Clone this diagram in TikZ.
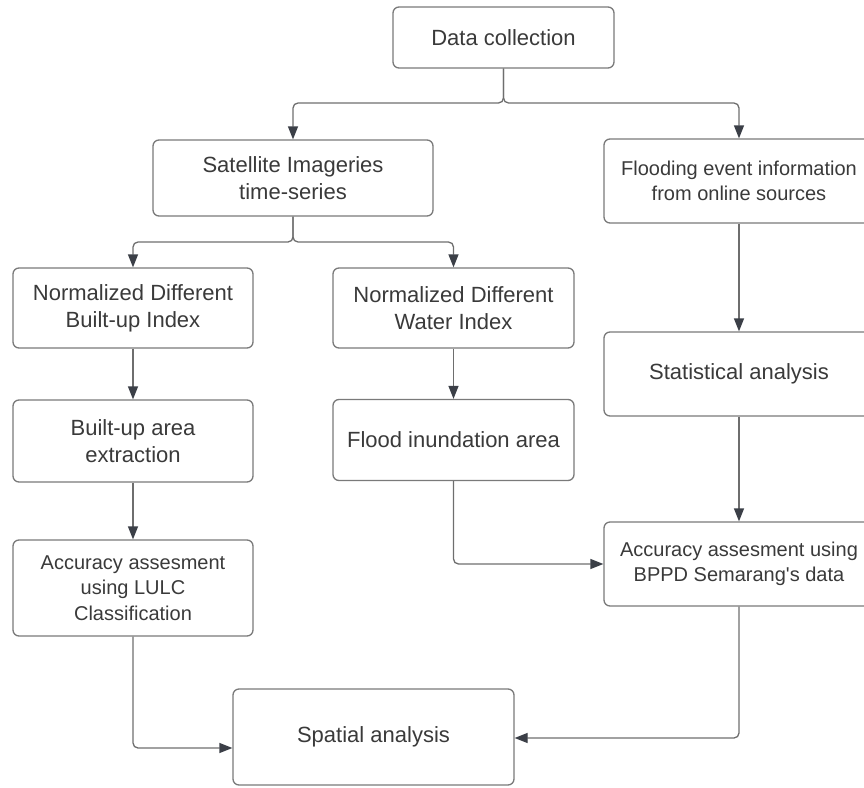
\documentclass[tikz,border=0pt]{standalone}
\usepackage{fontspec}
\setmainfont{Liberation Sans}
\newfontfamily\plainsans{Liberation Sans}
\usetikzlibrary{arrows.meta}
\definecolor{boxline}{HTML}{7A7A7A}
\definecolor{txtgray}{HTML}{3A3A3A}
\definecolor{linegray}{HTML}{6E6E6E}
\definecolor{tipgray}{HTML}{3B3F47}
\begin{document}
\begin{tikzpicture}[x=1pt, y=-1pt,
	box/.style={draw=boxline, line width=1.3pt, rounded corners=6pt, fill=white, text=txtgray,
		align=center, inner sep=0pt, font=\fontsize{22}{27}\selectfont},
	small/.style={font=\fontsize{20}{25.5}\selectfont},
	conn/.style={draw=linegray, line width=1.3pt, rounded corners=5pt,
		-{Triangle[length=13pt, width=10pt, color=tipgray]}}]
	\useasboundingbox (0,0) rectangle (864,787);
	% boxes
	\node[box, minimum width=221pt, minimum height=61pt] (data) at (503.5,37.5) {Data collection};
	\node[box, minimum width=280pt, minimum height=76pt] (sat) at (293,178) {Satellite Imageries\\time-series};
	\node[box, small, minimum width=270pt, minimum height=84pt] (flood) at (739,181) {Flooding event information\\from online sources};
	\node[box, minimum width=240pt, minimum height=80pt] (ndbi) at (133,308) {Normalized Different\\Built-up Index};
	\node[box, minimum width=241pt, minimum height=80pt] (ndwi) at (453.5,308) {Normalized Different\\Water Index};
	\node[box, minimum width=240pt, minimum height=82pt] (built) at (133,441) {Built-up area\\extraction};
	\node[box, minimum width=241pt, minimum height=81pt] (inund) at (453.5,440) {Flood inundation area};
	\node[box, small, minimum width=240pt, minimum height=96pt] (lulc) at (133,588) {Accuracy assesment\\using LULC\\Classification};
	\node[box, minimum width=270pt, minimum height=84pt] (stat) at (739,374) {Statistical analysis};
	\node[box, small, minimum width=270pt, minimum height=84pt] (bppd) at (739,564) {Accuracy assesment using\\BPPD Semarang{\plainsans'}s data};
	\node[box, minimum width=281pt, minimum height=96pt] (spatial) at (373.5,737) {Spatial analysis};
	% connectors
	\coordinate (splitA) at (503.5,103);
	\coordinate (splitB) at (293,242);
	\draw[conn] (data.south) -- (splitA) -| (sat.north);
	\draw[conn] (data.south) -- (splitA) -| (flood.north);
	\draw[conn] (sat.south) -- (splitB) -| (ndbi.north);
	\draw[conn] (sat.south) -- (splitB) -| (ndwi.north);
	\draw[conn] (ndbi) -- (built);
	\draw[conn] (built) -- (lulc);
	\draw[conn] (ndwi) -- (inund);
	\draw[conn] (flood) -- (stat);
	\draw[conn] (stat) -- (bppd);
	\draw[conn] (inund.south) |- (bppd.west);
	\draw[conn] (lulc.south) |- ([yshift=-11pt]spatial.west);
	\draw[conn] (bppd.south) |- ([yshift=-1pt]spatial.east);
\end{tikzpicture}
\end{document}
